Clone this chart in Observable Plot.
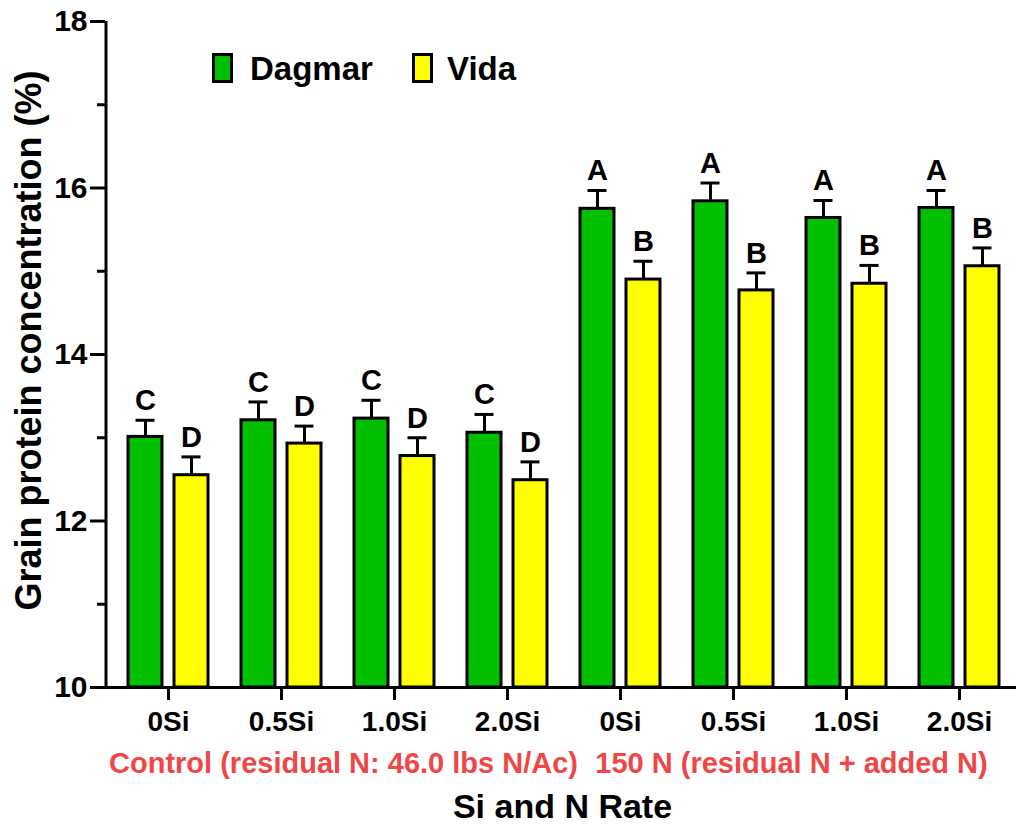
<!DOCTYPE html>
<html><head><meta charset="utf-8">
<script src="https://cdn.jsdelivr.net/npm/d3@7"></script>
<script src="https://cdn.jsdelivr.net/npm/@observablehq/plot@0.6"></script>
<style>
body{margin:0;background:#fff;}
#wrap{position:relative;width:1016px;height:827px;font-family:"Liberation Sans",Arial,sans-serif;font-weight:bold;}
.sw{position:absolute;box-sizing:border-box;width:21px;height:30px;border:3px solid #000;top:53px;}
.lt{position:absolute;font-size:33px;line-height:33px;top:52px;color:#000;white-space:nowrap;}
svg text{font-weight:bold;}
</style></head><body>
<div id="wrap">
  <div class="sw" style="left:212px;background:#00c000"></div><div class="lt" style="left:250px">Dagmar</div>
  <div class="sw" style="left:412px;background:#ffff00"></div><div class="lt" style="left:447px">Vida</div>
</div>
<script>
const rates = ["0Si", "0.5Si", "1.0Si", "2.0Si", "0Si", "0.5Si", "1.0Si", "2.0Si"];
const nLevels = ["Control", "Control", "Control", "Control", "150 N", "150 N", "150 N", "150 N"];
const dagmar = [13.01, 13.21, 13.23, 13.06, 15.75, 15.84, 15.64, 15.76];
const dagmarSE = [0.20, 0.22, 0.22, 0.22, 0.22, 0.22, 0.21, 0.21];
const dagmarLetters = ["C", "C", "C", "C", "A", "A", "A", "A"];
const vida = [12.55, 12.93, 12.78, 12.49, 14.90, 14.77, 14.85, 15.06];
const vidaSE = [0.22, 0.21, 0.22, 0.22, 0.22, 0.21, 0.22, 0.22];
const vidaLetters = ["D", "D", "D", "D", "B", "B", "B", "B"];
const yTicks = [10, 12, 14, 16, 18];
const yMinorTicks = [11, 13, 15, 17];
const groupLabels = ["Control (residual N: 46.0 lbs N/Ac)", "150 N (residual N + added N)"];
const xTitle = "Si and N Rate";
const yTitle = "Grain protein concentration (%)";

const keys = rates.map((r, i) => nLevels[i] + "|" + r);
const rowsOf = (vals, ses, letters) => keys.map((k, i) => ({key: k, value: vals[i], se: ses[i], letter: letters[i]}));
const dRows = rowsOf(dagmar, dagmarSE, dagmarLetters);
const vRows = rowsOf(vida, vidaSE, vidaLetters);

function varietyMarks(rows, offset, color) {
  return [
    Plot.ruleX(rows, {x: "key", y1: "value", y2: d => d.value + d.se, dx: offset, stroke: "#000", strokeWidth: 3}),
    Plot.tickY(rows, {x: "key", y: d => d.value + d.se, dx: offset, insetLeft: 7.5, insetRight: 7.5, stroke: "#000", strokeWidth: 3}),
    Plot.barY(rows, {x: "key", y1: 10, y2: "value", dx: offset, fill: color, stroke: "#000", strokeWidth: 3}),
    Plot.text(rows, {x: "key", y: d => d.value + d.se, text: "letter", dx: offset, dy: -10, lineAnchor: "bottom", fontSize: 29, fontWeight: "bold", fill: "#000"})
  ];
}

const chart = Plot.plot({
  width: 1016,
  height: 827,
  marginLeft: 105,
  marginRight: 0,
  marginTop: 21,
  marginBottom: 140,
  style: {fontFamily: '"Liberation Sans", Arial, sans-serif', fontWeight: "bold", background: "transparent", color: "#000"},
  x: {domain: keys, paddingInner: 0.6995, paddingOuter: 0.375, align: 0.536},
  y: {domain: [10, 18]},
  marks: [
    ...varietyMarks(dRows, -23, "#00c000"),
    ...varietyMarks(vRows, 23, "#ffff00"),
    Plot.ruleY([10], {stroke: "#000", strokeWidth: 3}),
    Plot.ruleX([keys[0]], {y1: 10, y2: 18, dx: -62.5, stroke: "#000", strokeWidth: 3}),
    Plot.axisY({ticks: yTicks, tickSize: 15, tickPadding: 3, fontSize: 30, fontWeight: "bold", label: null, strokeWidth: 3}),
    Plot.axisY({ticks: yMinorTicks, tickSize: 8, tickFormat: () => "", label: null, strokeWidth: 3}),
    Plot.axisX({tickSize: 13, tickPadding: 11, fontSize: 28, fontWeight: "bold", tickFormat: k => k.split("|")[1], label: null, strokeWidth: 3}),
    Plot.text([groupLabels[0]], {x: () => keys[1], frameAnchor: "bottom", dx: 62, dy: 85, lineAnchor: "bottom", fontSize: 29, fill: "#f04646"}),
    Plot.text([groupLabels[1]], {x: () => keys[5], frameAnchor: "bottom", dx: 58, dy: 85, lineAnchor: "bottom", fontSize: 29, fill: "#f04646"}),
    Plot.text([xTitle], {frameAnchor: "bottom", dx: 1.5, dy: 130, lineAnchor: "bottom", fontSize: 34, fill: "#000"}),
    Plot.text([yTitle], {frameAnchor: "left", textAnchor: "middle", rotate: -90, dx: -76, dy: -14, fontSize: 36, fill: "#000"})
  ]
});
chart.style.position = "absolute";
chart.style.left = "0px";
chart.style.top = "0px";
document.getElementById("wrap").prepend(chart);
</script>
</body></html>
